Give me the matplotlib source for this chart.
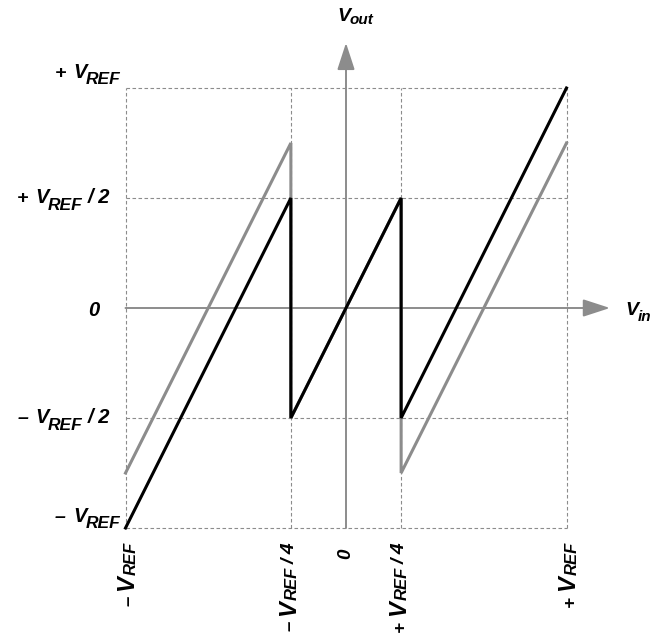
import matplotlib
matplotlib.use("Agg")
import matplotlib.pyplot as plt
from matplotlib.transforms import offset_copy

# transfer curves (Vin and Vout in units of VREF)
vin = [-1, -0.25, -0.25, 0.25, 0.25, 1]
vout_ideal = [-1, 0.5, -0.5, 0.5, -0.5, 1]
vout_shifted = [-0.75, 0.75, -0.5, 0.5, -0.75, 0.75]

grid_x = [-1, -0.25, 0.25, 1]
grid_y = [-1, -0.5, 0.5, 1]

# tick labels: (sign, main, subscript, suffix)
y_ticks = [1, 0.5, 0, -0.5, -1]
y_tick_labels = [("+", "V", "REF", ""), ("+", "V", "REF", "/ 2"), ("", "0", "", ""),
                 ("–", "V", "REF", "/ 2"), ("–", "V", "REF", "")]
x_ticks = [-1, -0.25, 0, 0.25, 1]
x_tick_labels = [("–", "V", "REF", ""), ("–", "V", "REF", "/ 4"), ("", "0", "", ""),
                 ("+", "V", "REF", "/ 4"), ("+", "V", "REF", "")]

GRAY = "#8c8c8c"
FONT = dict(family="Liberation Sans", weight="bold", style="italic", color="black")

fig = plt.figure(figsize=(6.52, 6.38), dpi=100)
ax = fig.add_axes([0, 0, 1, 1])
ax.set_xlim(-346 / 220.5, (652 - 346) / 220.5)
ax.set_ylim(-330 / 220, 308 / 220)
ax.axis("off")

# dotted grid box
ax.vlines(grid_x, -1, 1, colors=GRAY, lw=0.8, linestyles=(0, (3.2, 2.2)), zorder=1)
ax.hlines(grid_y, -1, 1, colors=GRAY, lw=0.8, linestyles=(0, (3.2, 2.2)), zorder=1)

# axes with arrows
arrow = dict(arrowstyle="-|>,head_length=1.66,head_width=0.54", color=GRAY, lw=1.4,
             mutation_scale=10, shrinkA=0, shrinkB=0)
ax.annotate("", xy=(1.197, 0), xytext=(-1, 0), arrowprops=arrow, zorder=2)
ax.annotate("", xy=(0, 1.205), xytext=(0, -1), arrowprops=arrow, zorder=2)

ax.plot(vin, vout_shifted, color=GRAY, lw=2.2, solid_joinstyle="bevel", zorder=3)
ax.plot(vin, vout_ideal, color="black", lw=2.2, solid_joinstyle="bevel", zorder=4)

renderer = fig.canvas.get_renderer()


def text_width(s, size):
    t = ax.text(0, 0, s, fontsize=size, **FONT)
    w = t.get_window_extent(renderer).width
    t.remove()
    return w


def rich_text(x, y, parts, dx=0, dy=0, align="left", rotate=False):
    # parts: (text, size pt, drop px, gap px before)
    parts = [p for p in parts if p[0]]
    widths = [text_width(p[0], p[1]) for p in parts]
    total = sum(widths) + sum(p[3] for p in parts[1:])
    pos = -total if align == "right" else 0
    for i, ((s, size, drop, gap), w) in enumerate(zip(parts, widths)):
        if i > 0:
            pos += gap
        if rotate:
            tr = offset_copy(ax.transData, fig=fig, x=dx + drop, y=dy + pos, units="dots")
        else:
            tr = offset_copy(ax.transData, fig=fig, x=dx + pos, y=dy - drop, units="dots")
        ax.text(x, y, s, fontsize=size, transform=tr, ha="left", va="baseline",
                rotation=90 if rotate else 0, rotation_mode="anchor", **FONT)
        pos += w


# y labels: right edge x px, baseline shift px
y_right = [120, 110, 99, 110, 120]
y_shift = [10, -5, -8, -5, 6]
for val, (sign, main, sub, suf), r, s in zip(y_ticks, y_tick_labels, y_right, y_shift):
    parts = [(sign, 14, 0, 0), (main, 14.5, 0, 7), (sub, 12.5, 6.5, -1), (suf, 14.5, 0, 5)]
    rich_text((r - 346) / 220.5, val, parts, dy=s, align="right")

# x labels, rotated, ending at y = 542 px
x_top = [542, 542, 549, 542, 542]
x_base = [8, 4, 4, 4, 8]
for val, (sign, main, sub, suf), top, b in zip(x_ticks, x_tick_labels, x_top, x_base):
    main_size = 17 if sub else 13.5
    parts = [(sign, 13.5, 0, 0), (main, main_size, 0, 5), (sub, 12, 2, 0), (suf, 14, 0, 3)]
    rich_text(val, (308 - top) / 220, parts, dx=b, align="right", rotate=True)

# axis titles
rich_text((337 - 346) / 220.5, (308 - 21) / 220, [("V", 14, 0, 0), ("out", 11, 3, 0)])
rich_text((625 - 346) / 220.5, (308 - 315) / 220, [("V", 14, 0, 0), ("in", 11, 6, 0)])

fig.savefig("out.png", dpi=100)
